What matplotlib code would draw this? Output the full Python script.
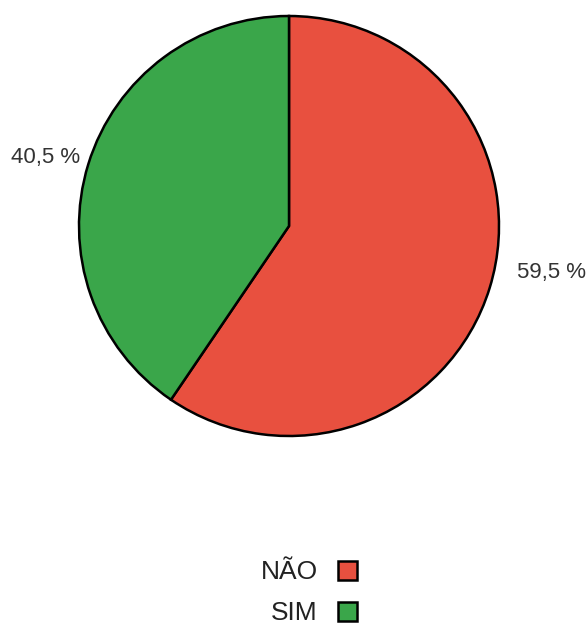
import numpy as np
import matplotlib.pyplot as plt

plt.rcParams['font.family'] = ['Liberation Sans', 'DejaVu Sans']

categories = ['NÃO', 'SIM']
values = [59.5, 40.5]
colors = ['#e8503f', '#3aa64a']

fig = plt.figure(figsize=(5.88, 6.27), dpi=100)
ax = fig.add_axes([0, 0, 1, 1])

cx, cy, r = 289, 401, 210
wedges, _ = ax.pie(values, colors=colors, startangle=90, counterclock=False,
                   center=(cx, cy), radius=r, frame=True,
                   wedgeprops=dict(edgecolor='black', linewidth=1.8))
ax.set_xlim(0, 588)
ax.set_ylim(0, 627)
ax.set_aspect('equal')
ax.axis('off')

# percentage labels outside each wedge (angles measured clockwise from the top)
total = sum(values)
lab_dist = [1.267, 1.206]
lab_shift = [7.1, 1.5]
start = 90.0
for v, d, s in zip(values, lab_dist, lab_shift):
    span = 360.0 * v / total
    mid = start - span / 2
    start -= span
    ang = np.deg2rad(mid + s)
    x = cx + d * r * np.cos(ang)
    y = cy + d * r * np.sin(ang)
    ax.text(x, y, f'{v:.1f} %'.replace('.', ','), fontsize=16,
            color='#333333', ha='center', va='center')

leg = ax.legend(wedges, categories, loc='upper center',
                bbox_to_anchor=(0.525, 0.144), frameon=False, markerfirst=False,
                fontsize=19, handlelength=0.72, handleheight=0.72,
                handletextpad=0.75, labelspacing=0.64)
for t in leg.get_texts():
    t.set_color('#222222')

fig.savefig('out.png', dpi=100)
